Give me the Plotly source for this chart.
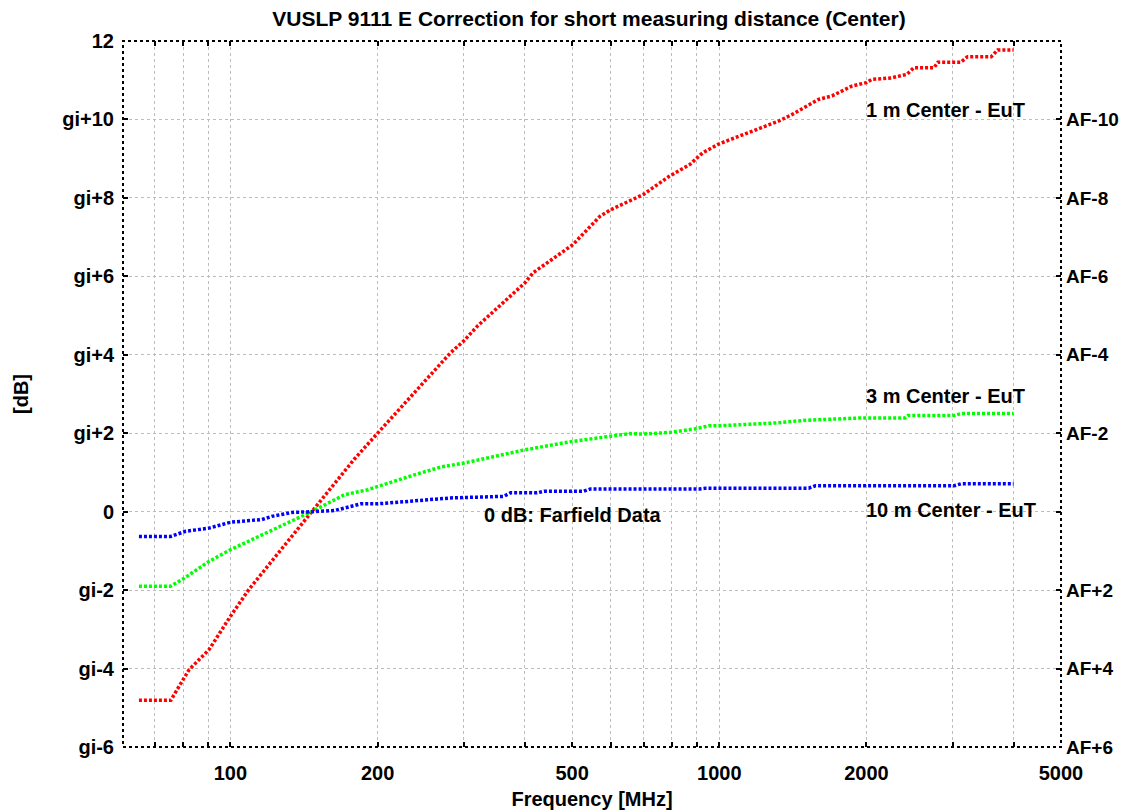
import numpy as np
import plotly.graph_objects as go

# ---------------- data ----------------
freq_1m = [65, 75.5, 82.3, 90.4, 100, 109, 125.4, 146.6, 166, 179, 200, 238, 251, 282,
           300, 320, 400, 416, 502, 570, 600, 700, 790, 870, 925, 1000, 1324, 1410, 1596,
           1700, 1867, 2000, 2050, 2250, 2420, 2500, 2750, 2800, 3120, 3220, 3600, 3710, 4000]
val_1m = [-4.81, -4.81, -4.03, -3.52, -2.67, -1.99, -1.05, 0.0, 0.82, 1.33, 2.0, 3.03, 3.37, 4.05,
          4.35, 4.73, 5.83, 6.09, 6.81, 7.53, 7.70, 8.09, 8.55, 8.85, 9.15, 9.38, 9.96, 10.13, 10.51,
          10.6, 10.85, 10.94, 11.02, 11.06, 11.15, 11.32, 11.32, 11.46, 11.46, 11.6, 11.6, 11.77, 11.77]

freq_3m = [65, 75.5, 79.7, 90.4, 100, 110.7, 129, 146.6, 171, 191, 238, 270, 301, 362, 398,
           494, 610, 656, 699, 792, 891, 953, 1000, 1300, 1500, 1950, 2398, 2430, 3020, 3120, 4000]
val_3m = [-1.90, -1.90, -1.73, -1.27, -0.97, -0.71, -0.33, 0.0, 0.43, 0.56, 0.94, 1.14, 1.24, 1.45, 1.57,
          1.78, 1.92, 1.99, 1.98, 2.02, 2.11, 2.19, 2.19, 2.26, 2.33, 2.39, 2.39, 2.45, 2.45, 2.50, 2.50]

freq_10m = [65, 75.5, 81, 90.4, 100, 116, 121.5, 133.5, 146.6, 163.5, 185, 200, 220, 242, 282,
            362, 374, 424, 438, 528, 545, 910, 940, 1524, 1572, 3020, 3120, 4000]
val_10m = [-0.63, -0.63, -0.50, -0.42, -0.27, -0.20, -0.12, -0.02, 0.0, 0.03, 0.20, 0.20, 0.24, 0.29, 0.35,
           0.39, 0.48, 0.48, 0.52, 0.52, 0.58, 0.58, 0.60, 0.60, 0.66, 0.66, 0.71, 0.71]

x_grid = [70, 80, 90, 100, 200, 300, 400, 500, 600, 700, 800, 900, 1000, 2000, 3000, 4000, 5000]
x_labels = ["", "", "", "100", "200", "", "", "500", "", "", "", "", "1000", "2000", "", "", "5000"]

y_ticks = [-6, -4, -2, 0, 2, 4, 6, 8, 10, 12]
y_left_labels = ["gi-6", "gi-4", "gi-2", "0", "gi+2", "gi+4", "gi+6", "gi+8", "gi+10", "12"]
y_right_labels = ["AF+6", "AF+4", "AF+2", "", "AF-2", "AF-4", "AF-6", "AF-8", "AF-10", ""]

series_names = ["1 m Center - EuT", "3 m Center - EuT", "10 m Center - EuT"]
series_colors = ["#ff0000", "#00ff00", "#0000ff"]

title = "VUSLP 9111 E Correction for short measuring distance (Center)"

FONT = "Liberation Sans, Arial, sans-serif"
FS = 20
W, H = 1129, 812

fig = go.Figure()
for fx, fy, nm, col in zip([freq_1m, freq_3m, freq_10m], [val_1m, val_3m, val_10m],
                           series_names, series_colors):
    fig.add_trace(go.Scatter(x=fx, y=fy, mode="lines", name=nm,
                             line=dict(color=col, width=3.5, dash="3px,2px"),
                             showlegend=False, hoverinfo="skip"))

# invisible trace for right axis
fig.add_trace(go.Scatter(x=[100], y=[0], yaxis="y2", mode="markers",
                         marker=dict(opacity=0), showlegend=False, hoverinfo="skip"))

grid = dict(showgrid=True, gridcolor="#bdbdbd", gridwidth=1.3, griddash="dot")

fig.update_layout(
    width=W, height=H,
    margin=dict(l=109, r=76, t=33, b=73),
    paper_bgcolor="white", plot_bgcolor="white",
    font=dict(family=FONT, size=FS, color="black"),
    title=dict(text="<b>" + title + "</b>", x=581 / W, xanchor="center",
               y=1 - 11 / H, yanchor="middle",
               font=dict(family=FONT, size=21, color="black")),
    xaxis=dict(type="log", range=[np.log10(60.3), np.log10(5000)],
               tickvals=x_grid, ticktext=["<b>%s</b>" % t if t else "" for t in x_labels],
               ticks="inside", ticklen=5, tickcolor="black", tickwidth=1.5, mirror="ticks",
               showline=False, zeroline=False,
               title=dict(text="<b>Frequency [MHz]</b>", standoff=8, font=dict(size=FS)),
               tickfont=dict(size=FS), ticklabelstandoff=12, **grid),
    yaxis=dict(range=[-6, 12], tickvals=y_ticks,
               ticktext=["<b>%s</b>" % t for t in y_left_labels],
               ticks="inside", ticklen=5, tickcolor="black", tickwidth=1.5,
               showline=False, zeroline=False,
               title=dict(text="<b>[dB]</b>", standoff=28, font=dict(size=FS)),
               tickfont=dict(size=FS), ticklabelstandoff=8, **grid),
    yaxis2=dict(range=[-6, 12], overlaying="y", side="right", tickvals=y_ticks,
                ticktext=["<b>%s</b>" % t if t else "" for t in y_right_labels],
                ticks="inside", ticklen=5, tickcolor="black", tickwidth=1.5,
                showline=False, zeroline=False, showgrid=False,
                tickfont=dict(size=19), ticklabelstandoff=4),
)

# dotted plot frame
fig.add_shape(type="rect", xref="paper", yref="paper", x0=0, x1=1, y0=0, y1=1,
              line=dict(color="black", width=2, dash="dot"), layer="above")

ann = [
    ("1 m Center - EuT", 2000, 10.23),
    ("3 m Center - EuT", 2000, 2.96),
    ("10 m Center - EuT", 2000, 0.05),
    ("0 dB: Farfield Data", 330, -0.08),
]
for txt, ax_, ay_ in ann:
    fig.add_annotation(x=np.log10(ax_), y=ay_, xref="x", yref="y", text="<b>%s</b>" % txt,
                       showarrow=False, xanchor="left", yanchor="middle", xshift=-2,
                       font=dict(family=FONT, size=FS, color="black"))

fig.write_html("out.html")
